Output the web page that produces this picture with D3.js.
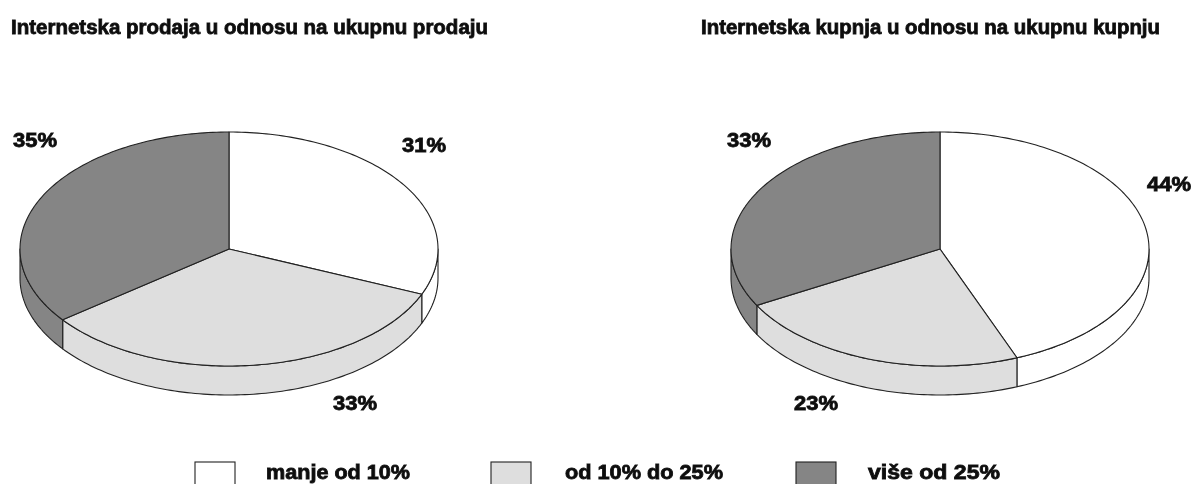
<!DOCTYPE html>
<html><head><meta charset="utf-8">
<script src="https://cdn.jsdelivr.net/npm/d3@7"></script>
<style>
html,body{margin:0;padding:0;background:#fff;overflow:hidden}
svg{display:block}
text{font-family:"Liberation Sans",Arial,sans-serif;font-weight:700;fill:#111;stroke:#111;stroke-width:.8px}
</style></head><body>
<svg id="c" width="1196" height="484"></svg>
<script>
const categories = ["manje od 10%", "od 10% do 25%", "više od 25%"];
const salesValues = [31, 33, 35];
const purchaseValues = [44, 23, 33];
const titles = ["Internetska prodaja u odnosu na ukupnu prodaju", "Internetska kupnja u odnosu na ukupnu kupnju"];

const colors = d3.scaleOrdinal().domain(categories).range(["#ffffff", "#dedede", "#858585"]);
const RX = 209, RY = 117, DEPTH = 29, CY = 249;
const svg = d3.select("#c");
const soft = svg.append("defs").append("filter").attr("id","soft")
  .attr("filterUnits","userSpaceOnUse").attr("x",0).attr("y",0).attr("width",1196).attr("height",484);
soft.append("feGaussianBlur").attr("stdDeviation",0.6);
const root = svg.append("g").attr("filter","url(#soft)");
const pie = d3.pie().sort(null).startAngle(0).endAngle(2*Math.PI);
const stroke = "#222";

function arcPts(a0, a1, cx, cy){
  const n = Math.max(2, Math.ceil((a1-a0)/0.02));
  return d3.range(n+1).map(i=>{
    const a = a0+(a1-a0)*i/n;
    return [cx+RX*Math.sin(a), cy-RY*Math.cos(a)];
  });
}
const line = d3.line();
function fitText(sel, w){ sel.attr("textLength",w).attr("lengthAdjust","spacingAndGlyphs"); return sel; }

function drawPie(values, cx, labels){
  const g = root.append("g");
  const arcs = pie(values);
  arcs.forEach((d,i)=>{
    const a0 = Math.max(d.startAngle, Math.PI/2), a1 = Math.min(d.endAngle, 3*Math.PI/2);
    if(a1<=a0) return;
    const top = arcPts(a0,a1,cx,CY), bot = arcPts(a0,a1,cx,CY+DEPTH).reverse();
    g.append("path").attr("d",line(top.concat(bot))+"Z")
      .attr("fill",colors(categories[i])).attr("stroke",stroke).attr("stroke-width",1.1).attr("stroke-linejoin","round");
  });
  arcs.forEach((d,i)=>{
    const pts = [[cx,CY]].concat(arcPts(d.startAngle,d.endAngle,cx,CY));
    g.append("path").attr("d",line(pts)+"Z")
      .attr("fill",colors(categories[i])).attr("stroke",stroke).attr("stroke-width",1.1).attr("stroke-linejoin","round");
  });
  values.forEach((v,i)=>{
    fitText(g.append("text").attr("x",labels[i][0]).attr("y",labels[i][1]).attr("font-size",20).text(v+"%"),44);
  });
}

fitText(root.append("text").attr("x",11).attr("y",34).attr("font-size",20).text(titles[0]),477);
fitText(root.append("text").attr("x",701).attr("y",34).attr("font-size",20).text(titles[1]),459);

drawPie(salesValues, 229, [[402,152],[333,410],[13,147]]);
drawPie(purchaseValues, 940, [[1147,191],[794,410],[727,147]]);

const legendBox = [195, 491, 796], legendText = [[266,144],[565,158],[868,132]];
categories.forEach((c,i)=>{
  root.append("rect").attr("x",legendBox[i]).attr("y",462).attr("width",40).attr("height",40)
    .attr("fill",colors(c)).attr("stroke",stroke).attr("stroke-width",1.1);
  fitText(root.append("text").attr("x",legendText[i][0]).attr("y",479).attr("font-size",20).text(c),legendText[i][1]);
});
</script></body></html>
